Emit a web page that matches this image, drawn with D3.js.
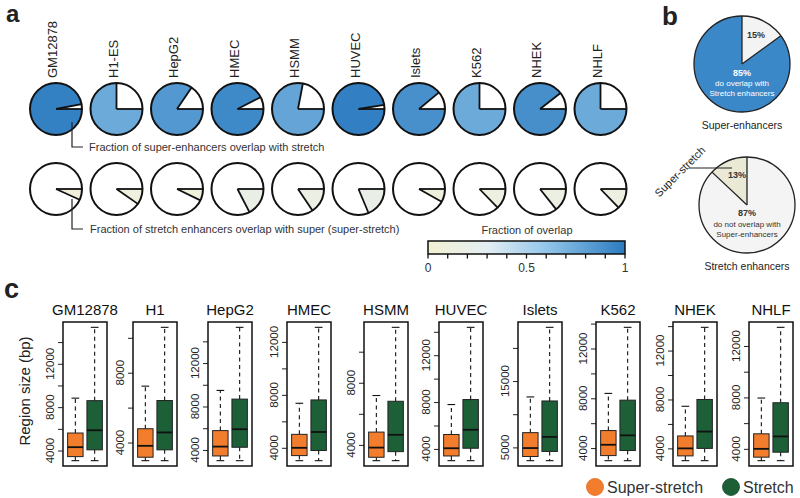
<!DOCTYPE html>
<html><head><meta charset="utf-8">
<script src="https://cdn.jsdelivr.net/npm/d3@7"></script>
<style>body{margin:0;background:#fff}svg{display:block;font-family:"Liberation Sans",Arial,sans-serif}</style>
</head><body><svg id="chart" width="800" height="498"></svg>
<script>
// ---------- DATA ----------
const cellsA = ["GM12878","H1-ES","HepG2","HMEC","HSMM","HUVEC","Islets","K562","NHEK","NHLF"];
const superWithStretch = [0.97,0.75,0.845,0.925,0.78,0.975,0.89,0.75,0.895,0.75];
const stretchWithSuper = [0.068,0.097,0.072,0.174,0.156,0.187,0.082,0.128,0.143,0.128];
const colorbarTicks = [0,0.1,0.2,0.3,0.4,0.5,0.6,0.7,0.8,0.9,1];
const colorbarLabels = [0,0.5,1];
const superEnhancerSplit = [0.85,0.15];   // overlap, no overlap
const stretchEnhancerSplit = [0.87,0.13]; // no overlap, super-stretch

const cellsC = ["GM12878","H1","HepG2","HMEC","HSMM","HUVEC","Islets","K562","NHEK","NHLF"];
// [lower whisker, Q1, median, Q3, upper whisker]
const superStretchBox = [
  [3066,3440,4310,5615,8830],[2960,3157,3810,4790,7230],[3012,3446,4308,5780,9480],
  [3029,3411,4000,5017,7364],[2984,3202,3825,4824,7178],[2996,3398,4057,5230,7785],
  [3000,3629,4900,7222,12610],[2990,3398,4268,5407,8393],[2996,3387,4000,5018,7443],
  [3081,3353,4000,5169,7952]];
const stretchBox = [
  [3066,4065,5870,8600,15360],[2960,3580,4577,6406,10600],[3012,4246,5908,8680,15290],
  [3029,3796,5195,7616,13100],[2984,3565,4649,6808,11568],[2996,4057,5634,8215,14380],
  [3000,4390,6580,12000,23100],[2990,3805,5025,7850,13700],[2996,4000,5375,8000,13900],
  [3081,3740,4966,7586,13450]];
const tickStep = [2000,2000,2000,2000,2000,2000,5000,2000,2000,2000];
const seriesNames = ["Super-stretch","Stretch"];

// ---------- LAYOUT / STYLE ----------
const facetLeft = [63,133,208,287,364,439,518,596,673,749];
const facetW = 44, facetTop = 322, facetBottom = 466;
const seriesColors = ["#f27d2c","#1d5f37"];
const svg = d3.select("#chart");
svg.append("rect").attr("width",800).attr("height",498).attr("fill","#fff");
const colorScale = d3.scaleLinear().domain([0,0.3,0.6,1])
  .range(["#f4f1d3","#e3eef3","#93c6ea","#2b7bc0"]);

// panel letters
svg.append("text").attr("x",6).attr("y",21.5).attr("font-size",24).attr("font-weight","bold").attr("fill","#222").text("a");
svg.append("text").attr("x",662).attr("y",25).attr("font-size",26).attr("font-weight","bold").attr("fill","#222").text("b");
svg.append("text").attr("x",4).attr("y",298).attr("font-size",27).attr("font-weight","bold").attr("fill","#222").text("c");

// ---------- PANEL A ----------
const pieX = d3.scalePoint().domain(cellsA).range([56,600.5]);
const R = 26, row1Y = 109, row2Y = 189;
const arcA = d3.arc().innerRadius(0).outerRadius(R);
function smallPie(cx, cy, f) {
  const g = svg.append("g").attr("transform",`translate(${cx},${cy})`);
  const a0 = Math.PI/2, a1 = Math.PI/2 + f*2*Math.PI;
  g.append("circle").attr("r",R).attr("fill","#fff");
  g.append("path").attr("d",arcA({startAngle:a0,endAngle:a1})).attr("fill",colorScale(f));
  [a0,a1].forEach(a=>{
    g.append("line").attr("x1",0).attr("y1",0)
     .attr("x2",R*Math.sin(a)).attr("y2",-R*Math.cos(a))
     .attr("stroke","#111").attr("stroke-width",1.8);
  });
  g.append("circle").attr("r",R).attr("fill","none").attr("stroke","#111").attr("stroke-width",2);
}
cellsA.forEach((c,i)=>{
  const cx = pieX(c);
  svg.append("text").attr("transform",`translate(${cx+1},78) rotate(-90)`)
    .attr("font-size",13).attr("fill","#222").text(c);
  smallPie(cx,row1Y,superWithStretch[i]);
  smallPie(cx,row2Y,stretchWithSuper[i]);
});
// callouts
svg.append("path").attr("d","M72,122 V147 H83").attr("fill","none").attr("stroke","#222").attr("stroke-width",1.2);
svg.append("text").attr("x",89).attr("y",151).attr("font-size",11).attr("fill","#333")
  .text("Fraction of super-enhancers overlap with stretch");
svg.append("path").attr("d","M72,199 V229 H83").attr("fill","none").attr("stroke","#222").attr("stroke-width",1.2);
svg.append("text").attr("x",90).attr("y",233).attr("font-size",11).attr("fill","#333")
  .text("Fraction of stretch enhancers overlap with super (super-stretch)");

// colorbar
const cbX = d3.scaleLinear().domain([0,1]).range([428,625]);
const grad = svg.append("defs").append("linearGradient").attr("id","cb");
d3.range(0,1.0001,0.05).forEach(t=>grad.append("stop").attr("offset",t).attr("stop-color",colorScale(t)));
svg.append("text").attr("x",527).attr("y",234).attr("text-anchor","middle").attr("font-size",11).attr("fill","#333").text("Fraction of overlap");
svg.append("rect").attr("x",cbX(0)).attr("y",241).attr("width",cbX(1)-cbX(0)).attr("height",13)
  .attr("fill","url(#cb)").attr("stroke","#111").attr("stroke-width",1.5);
svg.selectAll(".cbt").data(colorbarTicks).enter().append("line")
  .attr("x1",d=>cbX(d)).attr("x2",d=>cbX(d)).attr("y1",254).attr("y2",258.5)
  .attr("stroke","#111").attr("stroke-width",1.3);
svg.selectAll(".cbl").data(colorbarLabels).enter().append("text")
  .attr("x",d=>cbX(d)).attr("y",272).attr("text-anchor","middle").attr("font-size",12).attr("fill","#333")
  .text(d=>d);

// ---------- PANEL B ----------
const RB = 48;
const arcB = d3.arc().innerRadius(0).outerRadius(RB);
(function(){
  const g = svg.append("g").attr("transform","translate(742,64)");
  const cut = superEnhancerSplit[1]*2*Math.PI;
  g.append("path").attr("d",arcB({startAngle:0,endAngle:cut})).attr("fill","#f3f3f3");
  g.append("path").attr("d",arcB({startAngle:cut,endAngle:2*Math.PI})).attr("fill","#3b88c9");
  [0,cut].forEach(a=>g.append("line").attr("x2",RB*Math.sin(a)).attr("y2",-RB*Math.cos(a)).attr("stroke","#222").attr("stroke-width",1.3));
  g.append("circle").attr("r",RB).attr("fill","none").attr("stroke","#222").attr("stroke-width",1.3);
  g.append("text").attr("x",14).attr("y",-26).attr("text-anchor","middle").attr("font-size",9).attr("font-weight","bold").attr("fill","#333")
    .text(Math.round(superEnhancerSplit[1]*100)+"%");
  g.append("text").attr("y",12).attr("text-anchor","middle").attr("font-size",9).attr("font-weight","bold").attr("fill","#fff")
    .text(Math.round(superEnhancerSplit[0]*100)+"%");
  g.append("text").attr("y",22).attr("text-anchor","middle").attr("font-size",8).attr("fill","#fff").text("do overlap with");
  g.append("text").attr("y",32).attr("text-anchor","middle").attr("font-size",8).attr("fill","#fff").text("Stretch enhancers");
  svg.append("text").attr("x",742).attr("y",129).attr("text-anchor","middle").attr("font-size",10.5).attr("fill","#222").text("Super-enhancers");
})();
(function(){
  const g = svg.append("g").attr("transform","translate(747,205)");
  const cut = -stretchEnhancerSplit[1]*2*Math.PI;
  g.append("path").attr("d",arcB({startAngle:0,endAngle:2*Math.PI+cut})).attr("fill","#f4f4f4");
  g.append("path").attr("d",arcB({startAngle:cut,endAngle:0})).attr("fill","#e9e9d6");
  [0,cut].forEach(a=>g.append("line").attr("x2",RB*Math.sin(a)).attr("y2",-RB*Math.cos(a)).attr("stroke","#222").attr("stroke-width",1.3));
  g.append("circle").attr("r",RB).attr("fill","none").attr("stroke","#222").attr("stroke-width",1.3);
  g.append("text").attr("x",-10).attr("y",-27).attr("text-anchor","middle").attr("font-size",9).attr("font-weight","bold").attr("fill","#333")
    .text(Math.round(stretchEnhancerSplit[1]*100)+"%");
  g.append("text").attr("y",11).attr("text-anchor","middle").attr("font-size",9).attr("font-weight","bold").attr("fill","#333")
    .text(Math.round(stretchEnhancerSplit[0]*100)+"%");
  g.append("text").attr("y",22).attr("text-anchor","middle").attr("font-size",8).attr("fill","#333").text("do not overlap with");
  g.append("text").attr("y",32).attr("text-anchor","middle").attr("font-size",8).attr("fill","#333").text("Super-enhancers");
  svg.append("text").attr("x",747).attr("y",270).attr("text-anchor","middle").attr("font-size",10.5).attr("fill","#222").text("Stretch enhancers");
  svg.append("line").attr("x1",689).attr("x2",732).attr("y1",168).attr("y2",168).attr("stroke","#222").attr("stroke-width",1.2);
  svg.append("text").attr("transform","translate(706,151) rotate(-45)").attr("text-anchor","end").attr("font-size",11).attr("fill","#222").text("Super-stretch");
})();

// ---------- PANEL C ----------
svg.append("text").attr("transform","translate(30,391) rotate(-90)").attr("text-anchor","middle")
  .attr("font-size",15).attr("fill","#222").text("Region size (bp)");
cellsC.forEach((c,i)=>{
  const left = facetLeft[i];
  const boxes = [superStretchBox[i], stretchBox[i]];
  const lo = d3.min(boxes,b=>b[0]), hi = d3.max(boxes,b=>b[4]);
  const pad = 0.04*(hi-lo);
  const y = d3.scaleLinear().domain([lo-pad,hi+pad]).range([facetBottom,facetTop]);
  const x = d3.scaleLinear().domain([0.36,2.64]).range([left,left+facetW]);
  const g = svg.append("g");
  g.append("text").attr("x",left+facetW/2).attr("y",315).attr("text-anchor","middle")
    .attr("font-size",15).attr("fill","#111").text(c);
  // axis
  const step = tickStep[i];
  const ticks = d3.range(Math.ceil((lo-pad)/step)*step, hi+pad, step);
  const ax = g.append("g").attr("transform",`translate(${left},0)`)
    .call(d3.axisLeft(y).tickValues(ticks).tickSize(5).tickFormat(""));
  ax.select(".domain").remove();
  ax.selectAll("line").attr("stroke","#222").attr("stroke-width",1);
  ticks.forEach((t,k)=>{
    if(k%2===0) g.append("text").attr("transform",`translate(${left-9.5},${y(t)}) rotate(-90)`)
      .attr("text-anchor","middle").attr("font-size",11.5).attr("fill","#222").text(t);
  });
  boxes.forEach((b,s)=>{
    const cx = x(s+1), bw = x(1.4)-x(1), cw = x(1.2)-x(1);
    g.append("line").attr("x1",cx).attr("x2",cx).attr("y1",y(b[3])).attr("y2",y(b[4]))
      .attr("stroke","#111").attr("stroke-dasharray","4,3.5").attr("stroke-width",1.1);
    g.append("line").attr("x1",cx).attr("x2",cx).attr("y1",y(b[1])).attr("y2",y(b[0]))
      .attr("stroke","#111").attr("stroke-dasharray","4,3.5").attr("stroke-width",1.1);
    [b[0],b[4]].forEach(v=>g.append("line").attr("x1",cx-cw).attr("x2",cx+cw).attr("y1",y(v)).attr("y2",y(v))
      .attr("stroke","#111").attr("stroke-width",1.1));
    g.append("rect").attr("x",cx-bw).attr("width",2*bw).attr("y",y(b[3])).attr("height",y(b[1])-y(b[3]))
      .attr("fill",seriesColors[s]).attr("stroke","#222").attr("stroke-width",1);
    g.append("line").attr("x1",cx-bw).attr("x2",cx+bw).attr("y1",y(b[2])).attr("y2",y(b[2]))
      .attr("stroke","#111").attr("stroke-width",1.8);
  });
  g.append("rect").attr("x",left).attr("y",facetTop).attr("width",facetW).attr("height",facetBottom-facetTop)
    .attr("fill","none").attr("stroke","#111").attr("stroke-width",1.5);
});

// legend
const legX = [595,731];
seriesNames.forEach((n,s)=>{
  svg.append("circle").attr("cx",legX[s]).attr("cy",487).attr("r",8.5).attr("fill",seriesColors[s])
    .attr("stroke",s===0?"#e06a20":"#174d2c").attr("stroke-width",0.8);
  svg.append("text").attr("x",legX[s]+12).attr("y",493).attr("font-size",16).attr("fill","#333").text(n);
});
</script></body></html>
